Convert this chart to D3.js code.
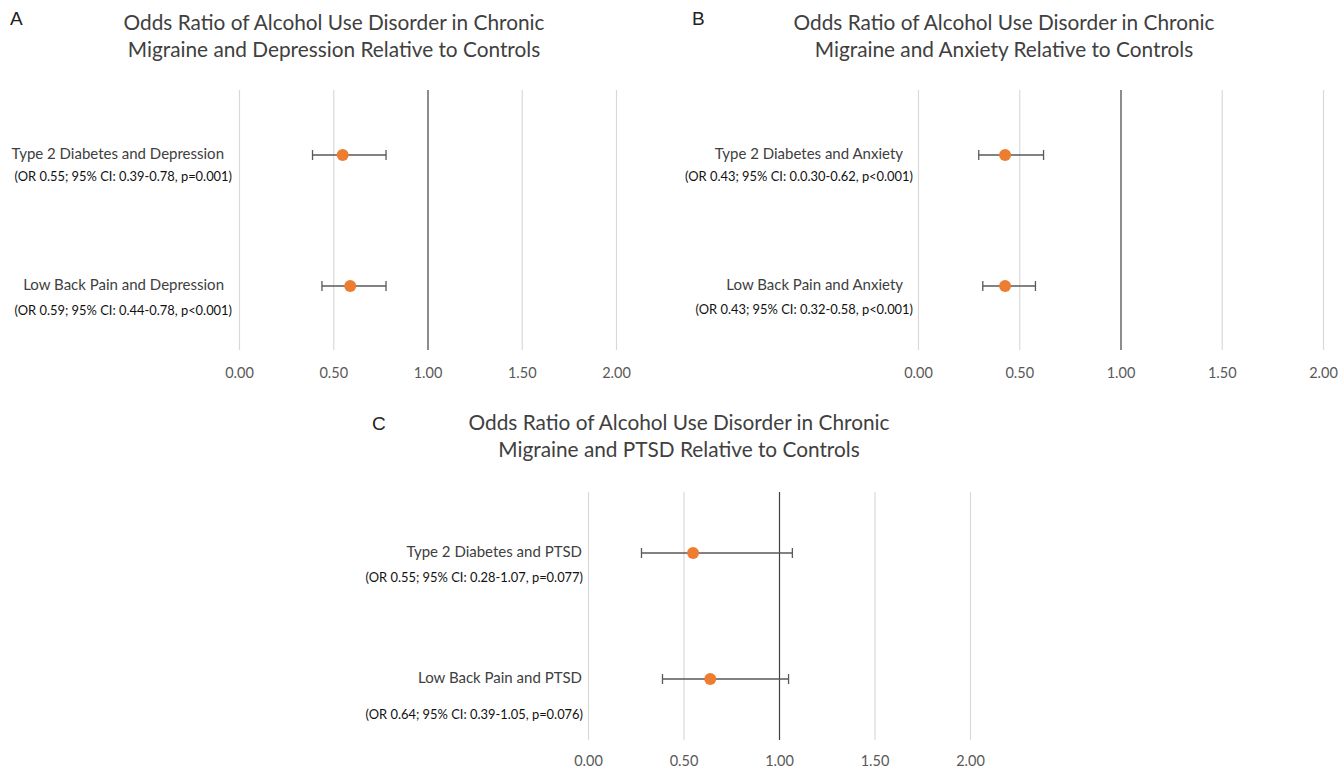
<meta charset="utf-8">
<style>
    body{ margin:0; background:#fff; }
    svg text{ font-family: Lato, "Open Sans", sans-serif; }
    .grid line{ stroke:#d9d9d9; stroke-width:1.2; }
    .grid .domain{ display:none; }
    .ticks .domain{ display:none; }
    .ticks line{ display:none; }
    .ticks text{ font-size:14.5px; fill:#595959; font-family: Lato, sans-serif; }
</style>
<script src="https://cdnjs.cloudflare.com/ajax/libs/d3/7.8.5/d3.min.js"></script>
<body>
<div id="chart"></div>
<script>
    // data
    panelLetters = ["A", "B", "C"];
    titleLine1 = [
        "Odds Ratio of Alcohol Use Disorder in Chronic",
        "Odds Ratio of Alcohol Use Disorder in Chronic",
        "Odds Ratio of Alcohol Use Disorder in Chronic"
    ];
    titleLine2 = [
        "Migraine and Depression Relative to Controls",
        "Migraine and Anxiety Relative to Controls",
        "Migraine and PTSD Relative to Controls"
    ];
    rowLabels = [
        ["Type 2 Diabetes and Depression", "Low Back Pain and Depression"],
        ["Type 2 Diabetes and Anxiety", "Low Back Pain and Anxiety"],
        ["Type 2 Diabetes and PTSD", "Low Back Pain and PTSD"]
    ];
    statLabels = [
        ["(OR 0.55; 95% CI: 0.39-0.78, p=0.001)", "(OR 0.59; 95% CI: 0.44-0.78, p<0.001)"],
        ["(OR 0.43; 95% CI: 0.0.30-0.62, p<0.001)", "(OR 0.43; 95% CI: 0.32-0.58, p<0.001)"],
        ["(OR 0.55; 95% CI: 0.28-1.07, p=0.077)", "(OR 0.64; 95% CI: 0.39-1.05, p=0.076)"]
    ];
    oddsRatio = [[0.55, 0.59], [0.43, 0.43], [0.55, 0.64]];
    ciLow = [[0.39, 0.44], [0.30, 0.32], [0.28, 0.39]];
    ciHigh = [[0.78, 0.78], [0.62, 0.58], [1.07, 1.05]];
    xTicks = [0, 0.5, 1, 1.5, 2];

    // where each panel sits on the page
    layout = [
        {x0:239, x1:616, top:90, bottom:350, rows:[155,286], sub:[178,312], labR:224, subR:232, tickY:374, lx:10, ly:20, tx:334, ty:25},
        {x0:918, x1:1323, top:90, bottom:350, rows:[155,286], sub:[178,311], labR:903, subR:913, tickY:374, lx:692, ly:20, tx:1004, ty:25},
        {x0:588, x1:970, top:492, bottom:740, rows:[553,679], sub:[579,716], labR:582, subR:583, tickY:762, lx:372, ly:425, tx:679, ty:425}
    ];

    svg = d3.select("#chart").append("svg")
            .attr("width", 1338)
            .attr("height", 768);

    panelLetters.forEach(function(letter, p){
        var L = layout[p];
        var g = svg.append("g");
        var x = d3.scaleLinear().domain([0, 2]).range([L.x0, L.x1]);
        var y = d3.scalePoint().domain(d3.range(rowLabels[p].length)).range(L.rows);

        g.append("text")
         .attr("x", L.lx).attr("y", L.ly)
         .attr("dominant-baseline", "middle")
         .style("font-family", "'Liberation Sans', Arial, sans-serif")
         .style("font-size", "19px")
         .attr("fill", "#222")
         .text(letter);

        [titleLine1[p], titleLine2[p]].forEach(function(t, i){
            g.append("text")
             .attr("x", L.tx).attr("y", L.ty + i*27)
             .attr("text-anchor", "middle")
             .attr("dominant-baseline", "middle")
             .style("font-size", "20.8px")
             .attr("fill", "#404040")
             .text(t);
        });

        // gridlines
        g.append("g")
         .attr("class", "grid")
         .attr("transform", "translate(0," + L.bottom + ")")
         .call(d3.axisBottom(x).tickValues(xTicks).tickSize(-(L.bottom - L.top)).tickFormat(""));
        g.select(".grid").selectAll(".tick line")
         .filter(function(d){ return d === 1; })
         .style("stroke", "#404040");

        // tick labels
        g.append("g")
         .attr("class", "ticks")
         .attr("transform", "translate(0," + (L.tickY - 6) + ")")
         .call(d3.axisBottom(x).tickValues(xTicks).tickSize(0).tickPadding(0).tickFormat(d3.format(".2f")));

        rowLabels[p].forEach(function(lab, i){
            var yy = y(i);
            g.append("text")
             .attr("x", L.labR).attr("y", yy)
             .attr("text-anchor", "end")
             .attr("dominant-baseline", "middle")
             .style("font-size", "15px")
             .attr("fill", "#404040")
             .text(lab);
            g.append("text")
             .attr("x", L.subR).attr("y", L.sub[i])
             .attr("text-anchor", "end")
             .attr("dominant-baseline", "middle")
             .style("font-size", "12.9px")
             .attr("fill", "#111")
             .text(statLabels[p][i]);

            // error bar
            g.append("line")
             .attr("x1", x(ciLow[p][i])).attr("x2", x(ciHigh[p][i]))
             .attr("y1", yy).attr("y2", yy)
             .attr("stroke", "#595959").attr("stroke-width", 1.3);
            [ciLow[p][i], ciHigh[p][i]].forEach(function(v){
                g.append("line")
                 .attr("x1", x(v)).attr("x2", x(v))
                 .attr("y1", yy - 5).attr("y2", yy + 5)
                 .attr("stroke", "#595959").attr("stroke-width", 1.3);
            });
            g.append("circle")
             .attr("cx", x(oddsRatio[p][i])).attr("cy", yy)
             .attr("r", 6)
             .attr("fill", "#ED7D31");
        });
    });
</script>
</body>
